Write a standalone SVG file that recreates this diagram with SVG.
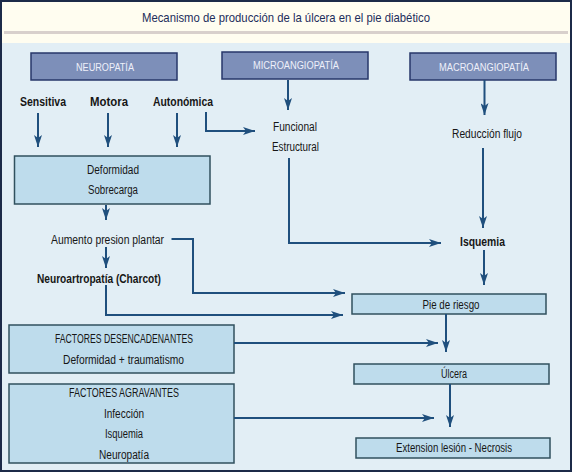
<svg xmlns="http://www.w3.org/2000/svg" width="572" height="472" viewBox="0 0 572 472">
<style>
text{font-family:"Liberation Sans",Arial,sans-serif;font-size:12px;fill:#161616;text-anchor:middle}
.b{font-weight:bold}
.t{font-size:13.5px;fill:#1d2e5c}
.w{fill:#eef0fa;font-size:11.5px}
.dk{fill:#7d8fb9;stroke:#27376a;stroke-width:1.5}
.lt{fill:#bedcec;stroke:#30505e;stroke-width:1.5}
.c path{fill:none;stroke:#1f4f7d;stroke-width:2;marker-end:url(#ah)}
</style>
<defs>
<marker id="ah" markerUnits="userSpaceOnUse" markerWidth="12" markerHeight="8" refX="12" refY="4" orient="auto">
<path d="M0,0 L12,4 L0,8 L3,4 Z" fill="#1f4f7d"/>
</marker>
</defs>
<rect x="0" y="0" width="572" height="472" fill="#e2eef5"/>
<rect x="0" y="0" width="572" height="43" fill="#fffdf0"/>
<rect x="4" y="31" width="564" height="3" fill="#d8d0cc"/>
<rect x="1" y="1" width="570" height="470" fill="none" stroke="#1c2a48" stroke-width="2"/>
<text class="t" x="286" y="21.5" textLength="288" lengthAdjust="spacingAndGlyphs">Mecanismo de producción de la úlcera en el pie diabético</text>
<g id="neuropatia"><rect class="dk" x="31" y="53" width="146" height="27"/><text class="w" x="105" y="70.5" textLength="58" lengthAdjust="spacingAndGlyphs">NEUROPATÍA</text></g>
<g id="microangiopatia"><rect class="dk" x="222" y="52" width="146" height="27"/><text class="w" x="296" y="68.5" textLength="86" lengthAdjust="spacingAndGlyphs">MICROANGIOPATÍA</text></g>
<g id="macroangiopatia"><rect class="dk" x="410" y="53" width="146" height="27"/><text class="w" x="484" y="70.5" textLength="90" lengthAdjust="spacingAndGlyphs">MACROANGIOPATÍA</text></g>
<g id="sensitiva"><text class="b" x="43" y="105.5" textLength="46" lengthAdjust="spacingAndGlyphs">Sensitiva</text></g>
<g id="motora"><text class="b" x="109" y="105.5" textLength="38" lengthAdjust="spacingAndGlyphs">Motora</text></g>
<g id="autonomica"><text class="b" x="183" y="105.5" textLength="60" lengthAdjust="spacingAndGlyphs">Autonómica</text></g>
<g id="funcional"><text x="295" y="130.5" textLength="44" lengthAdjust="spacingAndGlyphs">Funcional</text><text x="295.5" y="150.5" textLength="47" lengthAdjust="spacingAndGlyphs">Estructural</text></g>
<g id="reduccion"><text x="487" y="137.5" textLength="70" lengthAdjust="spacingAndGlyphs">Reducción flujo</text></g>
<g id="deformidad"><rect class="lt" x="14.5" y="156" width="195.5" height="48"/><text x="113" y="173.5" textLength="52" lengthAdjust="spacingAndGlyphs">Deformidad</text><text x="113" y="193.5" textLength="50" lengthAdjust="spacingAndGlyphs">Sobrecarga</text></g>
<g id="aumento"><text x="107.5" y="243.5" textLength="113" lengthAdjust="spacingAndGlyphs">Aumento presion plantar</text></g>
<g id="neuroartropatia"><text class="b" x="99" y="282.5" textLength="124" lengthAdjust="spacingAndGlyphs">Neuroartropatía (Charcot)</text></g>
<g id="isquemia"><text class="b" x="482.5" y="245.5" textLength="45" lengthAdjust="spacingAndGlyphs">Isquemia</text></g>
<g id="pie"><rect class="lt" x="352" y="294" width="194" height="20"/><text x="451" y="308.5" textLength="57" lengthAdjust="spacingAndGlyphs">Pie de riesgo</text></g>
<g id="desencadenantes"><rect class="lt" x="9" y="325" width="225" height="48"/><text x="124" y="342.5" textLength="138" lengthAdjust="spacingAndGlyphs">FACTORES DESENCADENANTES</text><text x="123.5" y="363.5" textLength="121" lengthAdjust="spacingAndGlyphs">Deformidad + traumatismo</text></g>
<g id="ulcera"><rect class="lt" x="354" y="364" width="195" height="20"/><text x="454" y="378" textLength="26" lengthAdjust="spacingAndGlyphs">Úlcera</text></g>
<g id="agravantes"><rect class="lt" x="9" y="384" width="225" height="79"/><text x="124" y="396.5" textLength="110" lengthAdjust="spacingAndGlyphs">FACTORES AGRAVANTES</text><text x="124" y="417.5" textLength="40" lengthAdjust="spacingAndGlyphs">Infección</text><text x="124" y="437.5" textLength="38" lengthAdjust="spacingAndGlyphs">Isquemia</text><text x="124" y="458.5" textLength="50" lengthAdjust="spacingAndGlyphs">Neuropatía</text></g>
<g id="extension"><rect class="lt" x="356" y="438" width="194" height="20"/><text x="454" y="451.5" textLength="116" lengthAdjust="spacingAndGlyphs">Extension lesión - Necrosis</text></g>
<g id="connectors" class="c">
<path d="M38,113 V147"/>
<path d="M108,113 V147"/>
<path d="M177,113 V147"/>
<path d="M206,112 V131 H255"/>
<path d="M288,80 V110"/>
<path d="M484.5,80 V115"/>
<path d="M483,148 V228"/>
<path d="M289,158 V243 H441"/>
<path d="M106,205 V220"/>
<path d="M106,247 V268"/>
<path d="M171.5,239 H193 V293 H345"/>
<path d="M106,285 V315 H343"/>
<path d="M484,250 V285"/>
<path d="M446,314 V352"/>
<path d="M234,343 H438"/>
<path d="M450,384 V427"/>
<path d="M234,418 H434"/>
</g>
</svg>
